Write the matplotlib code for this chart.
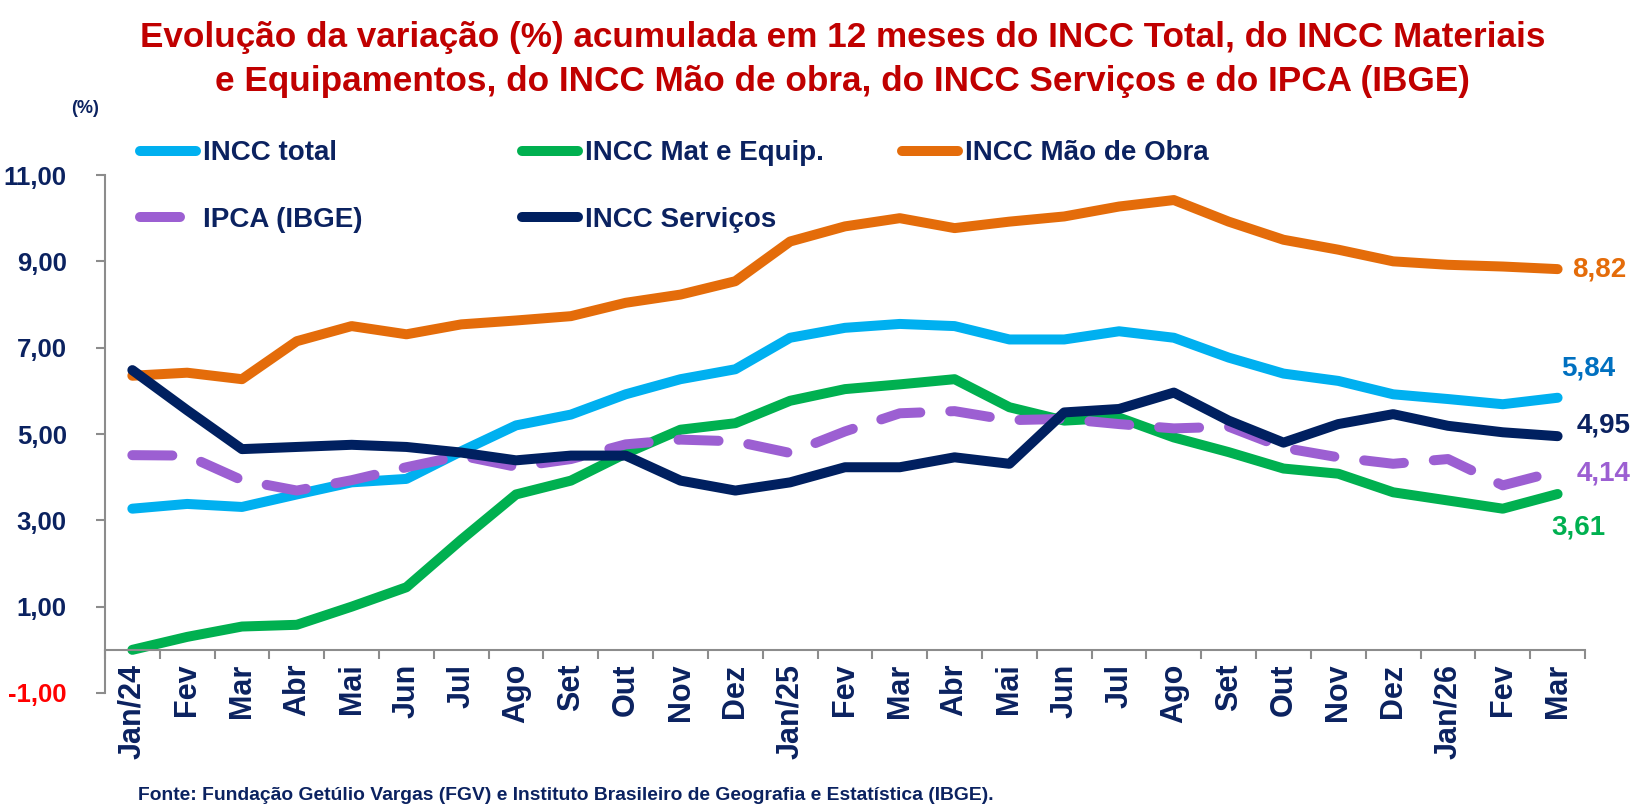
import matplotlib
matplotlib.use("Agg")
import matplotlib.pyplot as plt
import numpy as np
from matplotlib.ticker import FixedLocator, FuncFormatter

plt.rcParams['font.family'] = ['Liberation Sans', 'DejaVu Sans']

meses = ["Jan/24", "Fev", "Mar", "Abr", "Mai", "Jun", "Jul", "Ago", "Set", "Out", "Nov", "Dez",
         "Jan/25", "Fev", "Mar", "Abr", "Mai", "Jun", "Jul", "Ago", "Set", "Out", "Nov", "Dez",
         "Jan/26", "Fev", "Mar"]

incc_total = [3.27, 3.38, 3.31, 3.60, 3.88, 3.96, 4.60, 5.20, 5.45, 5.92, 6.27, 6.50,
              7.23, 7.46, 7.55, 7.50, 7.19, 7.19, 7.38, 7.23, 6.77, 6.40, 6.23, 5.92,
              5.81, 5.69, 5.84]
incc_mat = [0.00, 0.30, 0.54, 0.58, 1.00, 1.45, 2.55, 3.60, 3.92, 4.55, 5.10, 5.25,
            5.77, 6.04, 6.15, 6.27, 5.62, 5.31, 5.38, 4.92, 4.58, 4.20, 4.08, 3.65,
            3.46, 3.27, 3.61]
incc_mao = [6.35, 6.42, 6.27, 7.15, 7.50, 7.31, 7.54, 7.63, 7.73, 8.04, 8.23, 8.54,
            9.46, 9.81, 10.00, 9.77, 9.92, 10.04, 10.27, 10.42, 9.92, 9.50, 9.27, 9.00,
            8.92, 8.88, 8.82]
ipca = [4.51, 4.50, 3.93, 3.69, 3.93, 4.23, 4.50, 4.24, 4.42, 4.76, 4.87, 4.83,
        4.56, 5.06, 5.48, 5.53, 5.32, 5.35, 5.23, 5.13, 5.17, 4.68, 4.46, 4.31,
        4.42, 3.81, 4.14]
incc_serv = [6.48, 5.55, 4.65, 4.70, 4.75, 4.70, 4.57, 4.39, 4.50, 4.50, 3.92, 3.69,
             3.88, 4.23, 4.23, 4.46, 4.31, 5.50, 5.58, 5.96, 5.31, 4.80, 5.23, 5.46,
             5.19, 5.04, 4.95]

navy = "#0B2260"
c_total = "#00B0F0"
c_mat = "#00B050"
c_mao = "#E46C0A"
c_ipca = "#9C5FD2"
c_serv = "#002060"

fig = plt.figure(figsize=(16.32, 8.11), dpi=100)
ax = fig.add_axes([0.0643, 0.1455, 0.9069, 0.6387])

x = np.arange(len(meses))
lw = 7.2
kw = dict(linewidth=lw, solid_capstyle='round', solid_joinstyle='round')
l_total, = ax.plot(x, incc_total, color=c_total, label="INCC total", **kw)
l_mat, = ax.plot(x, incc_mat, color=c_mat, label="INCC Mat e Equip.", **kw)
l_mao, = ax.plot(x, incc_mao, color=c_mao, label="INCC Mão de Obra", **kw)
l_ipca, = ax.plot(x, ipca, color=c_ipca, label="IPCA (IBGE)", linewidth=lw,
                  linestyle=(0, (4, 3)), dash_capstyle='round', dash_joinstyle='round')
l_serv, = ax.plot(x, incc_serv, color=c_serv, label="INCC Serviços", **kw)

ax.set_xlim(-0.5, len(meses) - 0.5)
ax.set_ylim(-1, 11)

# eixos
for s in ['top', 'right']:
    ax.spines[s].set_visible(False)
ax.spines['left'].set_color('#8C8C8C')
ax.spines['left'].set_linewidth(1.5)
ax.spines['bottom'].set_position(('data', 0))
ax.spines['bottom'].set_color('#8C8C8C')
ax.spines['bottom'].set_linewidth(1.5)

ax.set_yticks(np.arange(-1, 12, 2))
ax.yaxis.set_major_formatter(FuncFormatter(lambda v, p: f"{v:.2f}".replace('.', ',')))
ax.tick_params(axis='y', length=6.5, width=1.5, color='#8C8C8C', pad=21,
               labelsize=18.5, labelcolor=navy)
for t in ax.get_yticklabels():
    t.set_fontweight('bold')
    if t.get_text().startswith('-1'):
        t.set_color('#FF0000')

ax.set_xticks(x)
ax.set_xticklabels(meses, rotation=90, fontsize=22, fontweight='bold', color=navy)
ax.xaxis.set_minor_locator(FixedLocator(np.arange(-0.5, len(meses), 1.0)))
ax.tick_params(axis='x', which='major', length=0, pad=10)
ax.tick_params(axis='x', which='minor', length=6.5, width=1.5, color='#8C8C8C')

# legendas em três colunas
prop = {'weight': 'bold', 'size': 20}
for hs, xa in [([l_total, l_ipca], 0.0858), ([l_mat, l_serv], 0.3199), ([l_mao], 0.5527)]:
    lg = fig.legend(handles=hs, loc='upper left', bbox_to_anchor=(xa, 0.827), prop=prop,
                    frameon=False, handlelength=2.0, handletextpad=0.25,
                    labelspacing=1.46, borderpad=0, borderaxespad=0)
    for t in lg.get_texts():
        t.set_color(navy)

# rótulos finais
last = len(meses) - 1
for serie, cor, dx, dy in [(incc_mao, c_mao, 15, 0), (incc_total, "#0070C0", 4, 29),
                           (incc_serv, navy, 19, 11), (ipca, c_ipca, 19, -2),
                           (incc_mat, c_mat, -6, -33)]:
    ax.annotate(f"{serie[last]:.2f}".replace('.', ','), xy=(last, serie[last]),
                xytext=(dx, dy), textcoords='offset pixels', ha='left', va='center',
                fontsize=20, fontweight='bold', color=cor, annotation_clip=False)

titulo = ["Evolução da variação (%) acumulada em 12 meses do INCC Total, do INCC Materiais",
          "e Equipamentos, do INCC Mão de obra, do INCC Serviços e do IPCA (IBGE)"]
fig.text(0.5165, 0.954, titulo[0], ha='center', va='center', fontsize=25.3,
         fontweight='bold', color='#C00000')
fig.text(0.5165, 0.899, titulo[1], ha='center', va='center', fontsize=25.3,
         fontweight='bold', color='#C00000')
fig.text(0.0435, 0.8656, "(%)", ha='left', va='center', fontsize=13, fontweight='bold', color=navy)
fig.text(0.0846, 0.0185, "Fonte: Fundação Getúlio Vargas (FGV) e Instituto Brasileiro de Geografia e Estatística (IBGE).",
         ha='left', va='center', fontsize=13.9, fontweight='bold', color=navy)

fig.savefig("out.png", dpi=100)
